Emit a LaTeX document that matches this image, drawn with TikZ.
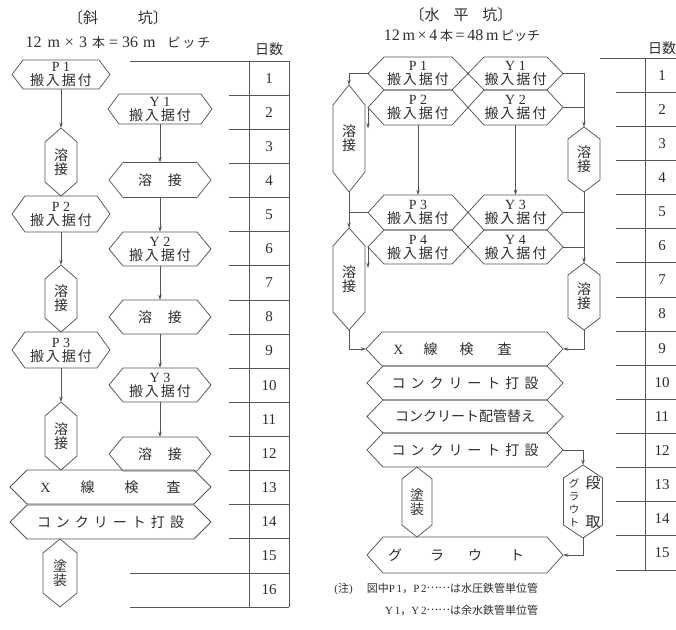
\documentclass[tikz,border=0pt]{standalone}
\usepackage{fontspec}
\setmainfont{Liberation Serif}
\newfontfamily\jp{Noto Sans CJK JP}
\usetikzlibrary{arrows.meta}
\definecolor{ink}{HTML}{555555}
\definecolor{txt}{HTML}{2E2E2E}
\newcommand{\nf}{\fontsize{14}{14}\selectfont}
\newcommand{\PY}[1]{#1\\{\jp 搬\hspace{2pt}入\hspace{2pt}据\hspace{2pt}付}}
\newcommand{\jpdots}{\raisebox{0.35em}{……}}
\newcommand{\hexH}[7]{%
  \node[box, minimum width=#4pt, minimum height=#5pt] (#1) at (#2,#3) {#7};
  \draw[ln] (#1.west) -- ([xshift=#6pt]#1.north west) -- ([xshift=-#6pt]#1.north east) -- (#1.east) -- ([xshift=-#6pt]#1.south east) -- ([xshift=#6pt]#1.south west) -- cycle;}
\newcommand{\hexV}[7]{%
  \node[box, minimum width=#4pt, minimum height=#5pt] (#1) at (#2,#3) {#7};
  \draw[ln] (#1.north) -- ([yshift=-#6pt]#1.north east) -- ([yshift=#6pt]#1.south east) -- (#1.south) -- ([yshift=#6pt]#1.south west) -- ([yshift=-#6pt]#1.north west) -- cycle;}
\begin{document}
\begin{tikzpicture}[x=1pt,y=-1pt,
  ln/.style={draw=ink, line width=0.75pt},
  arr/.style={ln, -{Stealth[length=5.5pt,width=3.6pt]}},
  box/.style={inner sep=0pt, outer sep=0pt, align=center, text=txt, font=\nf},
  lbl/.style={inner sep=0pt, outer sep=0pt, text=txt},
  num/.style={lbl, font=\fontsize{15}{15}\selectfont},
]
\useasboundingbox (0,0) rectangle (676,629);
\clip (0,0) rectangle (676,629);
\fill[white] (0,0) rectangle (676,629);

% ---------------- left: titles ----------------
\node[lbl, font=\fontsize{15}{15}\selectfont\jp] (ltA) at (118,18) {〔斜\hspace{40pt}坑〕};
\node[lbl, font=\fontsize{16}{16}\selectfont] (ltB) at (118,43) {12\hspace{6pt}m\hspace{5pt}×\hspace{5pt}3\hspace{5pt}{\jp\fontsize{13}{13}\selectfont 本}\hspace{4pt}=\hspace{4pt}36\hspace{5pt}m\hspace{12pt}{\jp\fontsize{13}{13}\selectfont ピ\hspace{2pt}ッ\hspace{2pt}チ}};
\node[lbl, font=\fontsize{14}{14}\selectfont\jp] (ltC) at (269,49) {日数};

% ---------------- left: table ----------------
\draw[ln] (130,61) -- (289,61);
\draw[ln] (249,61) -- (249,607);
\draw[ln] (289,61) -- (289,607);
\foreach \k in {1,...,14} {\draw[ln] (229,{61+34.125*\k}) -- (289,{61+34.125*\k});}
\draw[ln] (130,572.9) -- (289,572.9);
\draw[ln] (130,607) -- (289,607);
\foreach \k in {1,...,16} {\node[num] (ln\k) at (269,{61+34.125*(\k-0.5)}) {\k};}

% ---------------- left: flow ----------------
\hexH{lP1}{61}{74.5}{98}{29}{11}{\PY{P~1}}
\hexH{lY1}{160}{109}{104}{30}{11}{\PY{Y~1}}
\hexV{lW1}{61}{162}{32}{68}{14}{\fontsize{14}{20}\selectfont\jp 溶\\\jp 接}
\hexH{lW2}{160}{180}{102}{35}{14}{\jp 溶\hspace{16pt}接}
\hexH{lP2}{61}{214}{98}{36}{13}{\PY{P~2}}
\hexH{lY2}{160}{249}{102}{34}{14}{\PY{Y~2}}
\hexV{lW3}{61}{298.5}{32}{67}{14}{\fontsize{14}{20}\selectfont\jp 溶\\\jp 接}
\hexH{lW4}{160}{317}{102}{34}{14}{\jp 溶\hspace{16pt}接}
\hexH{lP3}{61}{350}{98}{36}{13}{\PY{P~3}}
\hexH{lY3}{160}{385}{102}{34}{14}{\PY{Y~3}}
\hexV{lW5}{61}{436}{32}{68}{14}{\fontsize{14}{20}\selectfont\jp 溶\\\jp 接}
\hexH{lW6}{160}{454}{102}{34}{14}{\jp 溶\hspace{16pt}接}
\hexH{lX}{110.5}{487}{201}{34}{17}{X\hspace{30pt}{\jp 線\hspace{30pt}検\hspace{28pt}査}}
\hexH{lC}{110.5}{522}{201}{34}{17}{\jp コ\hspace{5pt}ン\hspace{5pt}ク\hspace{5pt}リ\hspace{5pt}ー\hspace{5pt}ト\hspace{5pt}打\hspace{5pt}設}
\hexV{lT}{60}{573}{34}{68}{14}{\fontsize{14}{18}\selectfont\jp 塗\\\jp 装}

\draw[arr] (lP1.south) -- (lW1.north);
\draw[arr] (lP2.south) -- (lW3.north);
\draw[arr] (lP3.south) -- (lW5.north);
\draw[arr] (lY1.south) -- (lW2.north);
\draw[arr] (lW2.south) -- (lY2.north);
\draw[arr] (lY2.south) -- (lW4.north);
\draw[arr] (lW4.south) -- (lY3.north);
\draw[arr] (lY3.south) -- (lW6.north);

% ---------------- right: titles ----------------
\node[lbl, font=\fontsize{15}{15}\selectfont\jp] (rtA) at (461,15) {〔水\hspace{14pt}平\hspace{14pt}坑〕};
\node[lbl, font=\fontsize{16}{16}\selectfont] (rtB) at (462,36) {12\,m\,×\,4\,{\jp\fontsize{13}{13}\selectfont 本}\,=\,48\,m\,{\jp\fontsize{13}{13}\selectfont ピッチ}};
\node[lbl, font=\fontsize{14}{14}\selectfont\jp] (rtC) at (662,48) {日数};

% ---------------- right: table ----------------
\draw[ln] (600,58) -- (680,58);
\draw[ln] (645,58) -- (645,570);
\foreach \k in {1,...,15} {\draw[ln] (616,{58+34.133*\k}) -- (680,{58+34.133*\k});}
\foreach \k in {1,...,15} {\node[num] (rn\k) at (662,{58+34.133*(\k-0.5)}) {\k};}

% ---------------- right: flow ----------------
\hexH{rP1}{418}{73.5}{100}{33}{16}{\PY{P~1}}
\hexH{rY1}{515.5}{73.5}{95}{33}{16}{\PY{Y~1}}
\hexH{rP2}{418}{107.5}{100}{35}{16}{\PY{P~2}}
\hexH{rY2}{515.5}{107.5}{95}{35}{16}{\PY{Y~2}}
\hexH{rP3}{418}{212.5}{100}{35}{16}{\PY{P~3}}
\hexH{rY3}{515.5}{212.5}{95}{35}{16}{\PY{Y~3}}
\hexH{rP4}{418}{247}{100}{34}{16}{\PY{P~4}}
\hexH{rY4}{515.5}{247}{95}{34}{16}{\PY{Y~4}}
\hexV{rW1}{349}{138.5}{32}{107}{20}{\fontsize{14}{33}\selectfont\jp 溶\\\jp 接}
\hexV{rW2}{349}{279}{32}{102}{18}{\fontsize{14}{33}\selectfont\jp 溶\\\jp 接}
\hexV{rW3}{584}{159.5}{32}{65}{12}{\fontsize{14}{15}\selectfont\jp 溶\\\jp 接}
\hexV{rW4}{584}{296.5}{32}{67}{12}{\fontsize{14}{15}\selectfont\jp 溶\\\jp 接}
\hexH{rX}{464.5}{349}{197}{34}{16}{X\hspace{20pt}{\jp 線\hspace{22pt}検\hspace{24pt}査}\hspace{24pt}}
\hexH{rC1}{465}{383}{196}{34}{16}{\jp コ\hspace{5pt}ン\hspace{5pt}ク\hspace{5pt}リ\hspace{5pt}ー\hspace{5pt}ト\hspace{5pt}打\hspace{5pt}設}
\hexH{rC2}{465}{416.5}{196}{33}{16}{\jp コンクリート配管替え}
\hexH{rC3}{465}{450}{196}{34}{16}{\jp コ\hspace{5pt}ン\hspace{5pt}ク\hspace{5pt}リ\hspace{5pt}ー\hspace{5pt}ト\hspace{5pt}打\hspace{5pt}設}
\hexV{rT}{417}{502}{30}{70}{12}{\fontsize{14}{17}\selectfont\jp 塗\\\jp 装}
\hexV{rD}{583}{501.5}{39}{73}{13}{}
\node[lbl, align=center, font=\fontsize{10.5}{13}\selectfont\jp] (rDa) at (574,503) {グ\\ラ\\ウ\\ト};
\node[lbl, align=center, font=\fontsize{15}{39}\selectfont\jp] (rDb) at (593,502) {段\\取};
\hexH{rG}{465}{555}{196}{36}{16}{\jp グ\hspace{28pt}ラ\hspace{24pt}ウ\hspace{28pt}ト\hspace{18pt}}

\draw[arr] (rP1.west) -| (rW1.north);
\draw[arr] (rP2.west) -- ++(0,21);
\draw[ln] (rP3.west) -- (rP3.west -| rW1.south);
\draw[arr] (rW1.south) -- (rW2.north);
\draw[arr] (rP4.west) -- ++(0,21);
\draw[arr] (rW2.south) |- (rX.west);
\draw[arr] (rY1.east) -| (rW3.north);
\draw[ln] (rY2.east) -- (rY2.east -| rW3.north);
\draw[arr] (rW3.south) -- (rW4.north);
\draw[ln] (rY3.east) -- (rY3.east -| rW3.south);
\draw[ln] (rY4.east) -- (rY4.east -| rW3.south);
\draw[arr] (rW4.south) |- (rX.east);
\draw[arr] (rP2.south) -- (rP3.north);
\draw[arr] (rY2.south) -- (rY3.north);
\draw[arr] (rC3.east) -| (rD.north);
\draw[arr] (rD.south) |- (rG.east);

% ---------------- notes ----------------
\node[lbl, anchor=east, font=\fontsize{11}{11}\selectfont\jp] (nt1) at (538,589) {{\rmfamily (}注{\rmfamily )}\hspace{14pt}図中{\rmfamily P\,1}，{\rmfamily P\,2}\jpdots は水圧鉄管単位管};
\node[lbl, anchor=east, font=\fontsize{11}{11}\selectfont\jp] (nt2) at (538,610) {{\rmfamily Y\,1}，{\rmfamily Y\,2}\jpdots は余水鉄管単位管};
\end{tikzpicture}
\end{document}
